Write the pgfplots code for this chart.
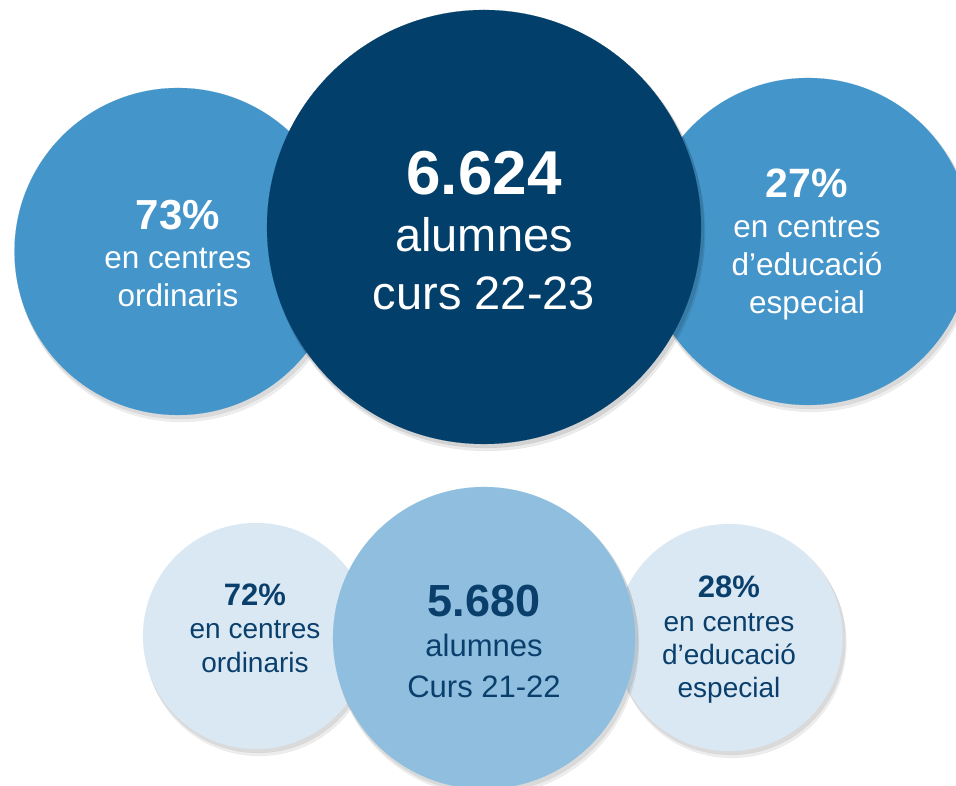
\documentclass[border=0pt]{standalone}
\usepackage{pgfplots}
\pgfplotsset{compat=1.18}
\usepackage{fontspec}
\setmainfont{Liberation Sans}

\definecolor{darkblue}{HTML}{023F6A}
\definecolor{midblue}{HTML}{4495CA}
\definecolor{paleblue}{HTML}{8FBEDF}
\definecolor{lightblue}{HTML}{DAE8F4}
\definecolor{txtblue}{HTML}{0A3F6C}

% one bubble: x y r, r in axis units (1 unit = 1pt)
\pgfplotsset{
  bubble/.style={scatter, only marks, mark=*,
    scatter/use mapped color={draw=#1, fill=#1, line width=0.1pt},
    visualization depends on={\thisrow{r} \as \rr},
    scatter/@pre marker code/.append style={/tikz/mark size=\rr pt}},
  bubbleshadow/.style={scatter, only marks, mark=*,
    scatter/use mapped color={draw=black, fill=black, line width=0.1pt, opacity=#1},
    visualization depends on={\thisrow{r}+1 \as \rr},
    scatter/@pre marker code/.append style={/tikz/mark size=\rr pt}},
}

\begin{document}
\begin{tikzpicture}
\begin{axis}[
  x=1pt, y=1pt,
  xmin=0, xmax=956, ymin=0, ymax=786,
  hide axis, clip marker paths=true,
]
  % --- curs 22-23 ---
  \addplot[bubbleshadow=0.07] table[row sep=\\, x expr=\thisrow{x}+3, y expr=\thisrow{y}-6]
    {x y r\\ 178 534.5 163.5\\ 808 544.5 163.5\\};
  \addplot[bubbleshadow=0.08] table[row sep=\\, x expr=\thisrow{x}+2, y expr=\thisrow{y}-3]
    {x y r\\ 178 534.5 163.5\\ 808 544.5 163.5\\};
  \addplot[bubble=midblue] table[row sep=\\] {x y r\\ 178 534.5 163.5\\};
  \addplot[bubble=midblue] table[row sep=\\] {x y r\\ 808 544.5 163.5\\};
  \addplot[bubbleshadow=0.08] table[row sep=\\, x expr=\thisrow{x}+3, y expr=\thisrow{y}-6]
    {x y r\\ 484 559 217\\};
  \addplot[bubbleshadow=0.10] table[row sep=\\, x expr=\thisrow{x}+2, y expr=\thisrow{y}-3]
    {x y r\\ 484 559 217\\};
  \addplot[bubble=darkblue] table[row sep=\\] {x y r\\ 484 559 217\\};

  % --- curs 21-22 ---
  \addplot[bubbleshadow=0.07] table[row sep=\\, x expr=\thisrow{x}+3, y expr=\thisrow{y}-6]
    {x y r\\ 256 150 113\\ 729 148.5 113.5\\};
  \addplot[bubbleshadow=0.08] table[row sep=\\, x expr=\thisrow{x}+2, y expr=\thisrow{y}-3]
    {x y r\\ 256 150 113\\ 729 148.5 113.5\\};
  \addplot[bubble=lightblue] table[row sep=\\] {x y r\\ 256 150 113\\};
  \addplot[bubble=lightblue] table[row sep=\\] {x y r\\ 729 148.5 113.5\\};
  \addplot[bubbleshadow=0.07] table[row sep=\\, x expr=\thisrow{x}+3, y expr=\thisrow{y}-6]
    {x y r\\ 484 148 151\\};
  \addplot[bubbleshadow=0.08] table[row sep=\\, x expr=\thisrow{x}+2, y expr=\thisrow{y}-3]
    {x y r\\ 484 148 151\\};
  \addplot[bubble=paleblue] table[row sep=\\] {x y r\\ 484 148 151\\};

  % labels, top row
  \node[anchor=base, text=white, font=\fontsize{62}{62}\selectfont\bfseries] at (axis cs:484,591) {6.624};
  \node[anchor=base, text=white, font=\fontsize{47}{47}\selectfont] at (axis cs:484,534) {alumnes};
  \node[anchor=base, text=white, font=\fontsize{47}{47}\selectfont] at (axis cs:484,476) {curs 22-23};

  \node[anchor=base, text=white, font=\fontsize{42}{42}\selectfont\bfseries] at (axis cs:178,556) {73\%};
  \node[anchor=base, text=white, font=\fontsize{31.5}{31.5}\selectfont] at (axis cs:178,517) {en centres};
  \node[anchor=base, text=white, font=\fontsize{31.5}{31.5}\selectfont] at (axis cs:178,479) {ordinaris};

  \node[anchor=base, text=white, font=\fontsize{41}{41}\selectfont\bfseries] at (axis cs:807,588) {27\%};
  \node[anchor=base, text=white, font=\fontsize{31.5}{31.5}\selectfont] at (axis cs:807,548) {en centres};
  \node[anchor=base, text=white, font=\fontsize{31.5}{31.5}\selectfont] at (axis cs:807,510) {d’educació};
  \node[anchor=base, text=white, font=\fontsize{31.5}{31.5}\selectfont] at (axis cs:807,472) {especial};

  % labels, bottom row
  \node[anchor=base, text=txtblue, font=\fontsize{45}{45}\selectfont\bfseries] at (axis cs:484,169) {5.680};
  \node[anchor=base, text=txtblue, font=\fontsize{31}{31}\selectfont] at (axis cs:484,129) {alumnes};
  \node[anchor=base, text=txtblue, font=\fontsize{31}{31}\selectfont] at (axis cs:484,88) {Curs 21-22};

  \node[anchor=base, text=txtblue, font=\fontsize{31}{31}\selectfont\bfseries] at (axis cs:255,180) {72\%};
  \node[anchor=base, text=txtblue, font=\fontsize{28}{28}\selectfont] at (axis cs:255,147) {en centres};
  \node[anchor=base, text=txtblue, font=\fontsize{28}{28}\selectfont] at (axis cs:255,113) {ordinaris};

  \node[anchor=base, text=txtblue, font=\fontsize{31}{31}\selectfont\bfseries] at (axis cs:729,188) {28\%};
  \node[anchor=base, text=txtblue, font=\fontsize{28}{28}\selectfont] at (axis cs:729,154) {en centres};
  \node[anchor=base, text=txtblue, font=\fontsize{28}{28}\selectfont] at (axis cs:729,121) {d’educació};
  \node[anchor=base, text=txtblue, font=\fontsize{28}{28}\selectfont] at (axis cs:729,88) {especial};

  \coordinate (sw) at (axis cs:0,0);
  \coordinate (ne) at (axis cs:956,786);
\end{axis}
\pgfresetboundingbox
\useasboundingbox (sw) rectangle (ne);
\end{tikzpicture}
\end{document}
